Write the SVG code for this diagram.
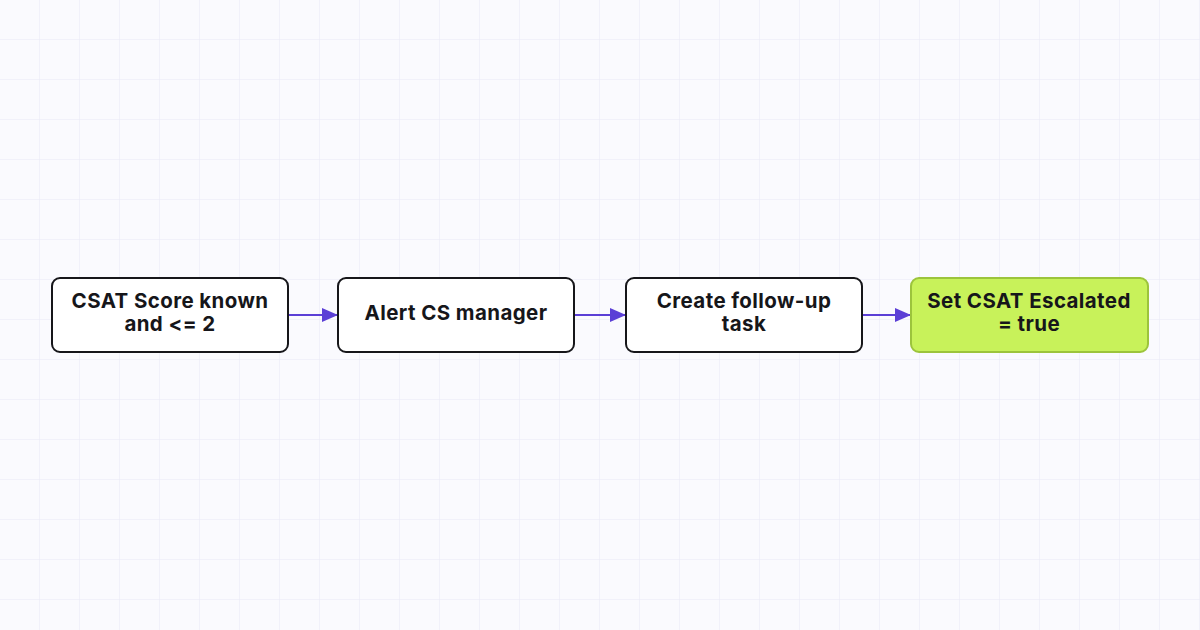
<svg xmlns="http://www.w3.org/2000/svg" width="1200" height="630" viewBox="0 0 1200 630">
<defs>
<pattern id="grid" width="40" height="40" patternUnits="userSpaceOnUse"><path d="M40 0V40M0 40H40" fill="none" stroke="#e9e9f6" stroke-width="1"/></pattern>
<marker id="ah" markerWidth="16" markerHeight="14" refX="15" refY="7" orient="auto" markerUnits="userSpaceOnUse"><path d="M0 0L16 7L0 14Z" fill="#5b3fd6"/></marker>
<style>
.n{fill:#fff;stroke:#16161a;stroke-width:2}
.g{fill:#c8f25a;stroke:#9cc43c;stroke-width:2}
.t{font-family:Inter,"Liberation Sans",sans-serif;font-weight:700;font-size:20.5px;letter-spacing:0.4px;fill:#16161a;text-anchor:middle}
.c{stroke:#5b3fd6;stroke-width:2;fill:none;marker-end:url(#ah)}
</style>
</defs>
<rect width="1200" height="630" fill="#fafafe"/>
<rect width="1200" height="630" fill="url(#grid)"/>
<g id="connectors">
<path class="c" d="M289 315H337"/>
<path class="c" d="M575 315H625"/>
<path class="c" d="M863 315H910"/>
</g>
<g id="n1"><rect class="n" x="52" y="278" width="236" height="74" rx="8"/><text class="t" x="170" y="308">CSAT Score known</text><text class="t" x="170" y="331">and &lt;= 2</text></g>
<g id="n2"><rect class="n" x="338" y="278" width="236" height="74" rx="8"/><text class="t" x="456" y="320">Alert CS manager</text></g>
<g id="n3"><rect class="n" x="626" y="278" width="236" height="74" rx="8"/><text class="t" x="744" y="308">Create follow-up</text><text class="t" x="744" y="331">task</text></g>
<g id="n4"><rect class="g" x="911" y="278" width="237" height="74" rx="8"/><text class="t" x="1029" y="308">Set CSAT Escalated</text><text class="t" x="1029" y="331">= true</text></g>
</svg>
